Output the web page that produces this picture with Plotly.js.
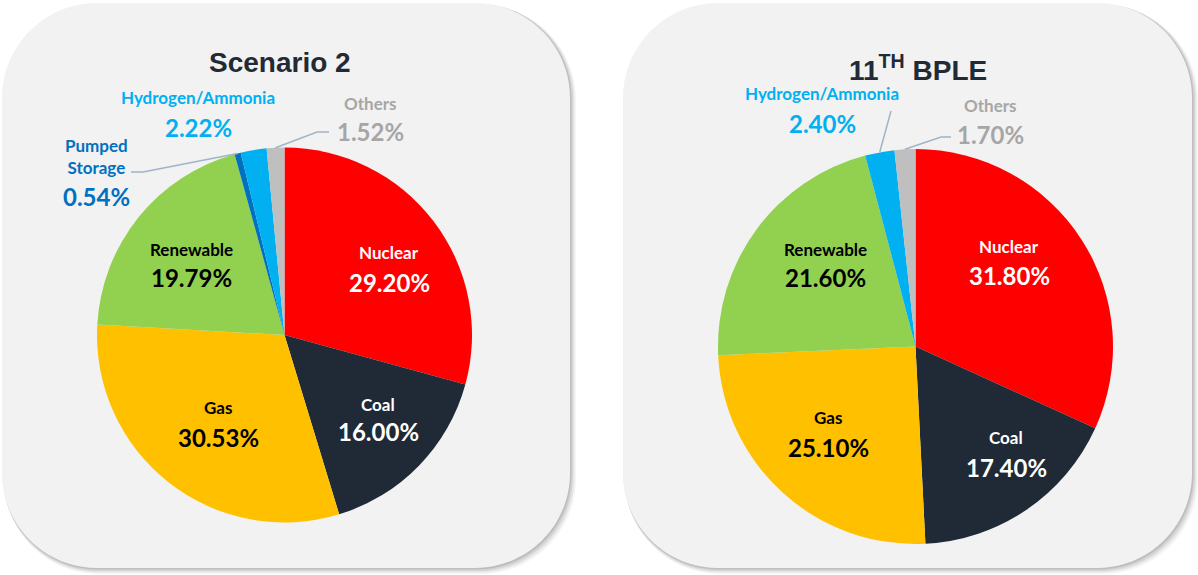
<!DOCTYPE html>
<html>
<head>
<meta charset="utf-8">
<script src="https://cdn.plot.ly/plotly-3.0.1.min.js"></script>
<style>html,body{margin:0;padding:0;background:#fff;}#chart{width:1198px;height:575px;}</style>
</head>
<body>
<div id="chart"></div>
<script>
// ---------------- DATA ----------------
const titles = ['Scenario 2', '11<sup>TH</sup> BPLE'];
const scenario2Labels = ['Nuclear', 'Coal', 'Gas', 'Renewable', 'Pumped Storage', 'Hydrogen/Ammonia', 'Others'];
const scenario2Values = [29.20, 16.00, 30.53, 19.79, 0.54, 2.22, 1.52];
const bpleLabels = ['Nuclear', 'Coal', 'Gas', 'Renewable', 'Hydrogen/Ammonia', 'Others'];
const bpleValues = [31.80, 17.40, 25.10, 21.60, 2.40, 1.70];

// ---------------- STYLE ----------------
const colorMap = {
  'Nuclear': '#FF0000', 'Coal': '#1F2A36', 'Gas': '#FFC000', 'Renewable': '#92D050',
  'Pumped Storage': '#0070C0', 'Hydrogen/Ammonia': '#00B0F0', 'Others': '#BFBFBF'
};
const labelColor = {
  'Nuclear': '#FFFFFF', 'Coal': '#FFFFFF', 'Gas': '#000000', 'Renewable': '#000000',
  'Pumped Storage': '#0070C0', 'Hydrogen/Ammonia': '#00B0F0', 'Others': '#A6A6A6'
};
const W = 1198, H = 575;
const px = x => x / W;
const py = y => 1 - y / H;
const FONT = 'Lato, "Open Sans", sans-serif';

const pies = [
  {cx: 284.5, cy: 335, r: 187.5, titleX: 280, titleY: 63, labels: scenario2Labels, values: scenario2Values,
   // label text positions (pixel centres): [labelY, pctY, x]; multi-line handled via <br>
   pos: {
     'Nuclear': [389, 253, 282], 'Coal': [378, 404, 432], 'Gas': [218, 407, 437], 'Renewable': [191, 249, 278],
     'Pumped Storage': [96, 156, 196], 'Hydrogen/Ammonia': [198, 98, 127], 'Others': [370, 104, 132]
   },
   leaders: {'Pumped Storage': [[131, 172], [143, 172]], 'Others': [[329, 132], [317, 132]]}
  },
  {cx: 915.5, cy: 346.5, r: 197.5, titleX: 918, titleY: 68, labels: bpleLabels, values: bpleValues,
   pos: {
     'Nuclear': [1009, 247, 275], 'Coal': [1006, 437, 467], 'Gas': [828, 417, 447], 'Renewable': [825, 250, 278],
     'Hydrogen/Ammonia': [822, 93, 123], 'Others': [990, 105, 134]
   },
   leaders: {'Hydrogen/Ammonia': [[891, 111]], 'Others': [[951, 137], [941, 137]]}
  }
];

const panels = [[2, 3, 570, 568], [623, 3, 1192, 568]];
const RAD = 95;

function roundRect(x0, y0, x1, y1, r) {
  const k = 0.5523 * r;
  const P = (x, y) => px(x) + ',' + py(y);
  return 'M' + P(x0 + r, y0) + ' L' + P(x1 - r, y0) +
    ' C' + P(x1 - r + k, y0) + ' ' + P(x1, y0 + r - k) + ' ' + P(x1, y0 + r) +
    ' L' + P(x1, y1 - r) +
    ' C' + P(x1, y1 - r + k) + ' ' + P(x1 - r + k, y1) + ' ' + P(x1 - r, y1) +
    ' L' + P(x0 + r, y1) +
    ' C' + P(x0 + r - k, y1) + ' ' + P(x0, y1 - r + k) + ' ' + P(x0, y1 - r) +
    ' L' + P(x0, y0 + r) +
    ' C' + P(x0, y0 + r - k) + ' ' + P(x0 + r - k, y0) + ' ' + P(x0 + r, y0) + ' Z';
}

const shapes = [];
panels.forEach(([x0, y0, x1, y1]) => {
  [[6, 0.04], [4.5, 0.06], [3, 0.08], [1.5, 0.1]].forEach(([o, a]) => {
    shapes.push({type: 'path', xref: 'paper', yref: 'paper', layer: 'below',
      path: roundRect(x0 + o * 0.3, y0 + o * 0.3, x1 + o, y1 + o, RAD),
      fillcolor: 'rgba(0,0,0,' + a + ')', line: {width: 0}});
  });
  shapes.push({type: 'path', xref: 'paper', yref: 'paper', layer: 'below',
    path: roundRect(x0, y0, x1, y1, RAD), fillcolor: '#F2F2F2', line: {width: 0}});
});

const traces = [];
const annotations = [];
pies.forEach(p => {
  traces.push({
    type: 'pie', labels: p.labels, values: p.values, sort: false, direction: 'clockwise', rotation: 0,
    marker: {colors: p.labels.map(l => colorMap[l]), line: {width: 0}},
    textinfo: 'none', hoverinfo: 'label+value', showlegend: false,
    domain: {x: [px(p.cx - p.r), px(p.cx + p.r)], y: [py(p.cy + p.r), py(p.cy - p.r)]}
  });
  annotations.push({xref: 'paper', yref: 'paper', x: px(p.titleX), y: py(p.titleY),
    xanchor: 'center', yanchor: 'middle', showarrow: false, text: '<b>' + (p === pies[0] ? titles[0] : titles[1]) + '</b>',
    font: {family: '"Liberation Sans", Arial, sans-serif', size: 28, color: '#222A35'}});

  const total = p.values.reduce((a, b) => a + b, 0);
  let cum = 0;
  p.labels.forEach((lab, i) => {
    const v = p.values[i];
    const mid = (cum + v / 2) / total * 2 * Math.PI;
    cum += v;
    const q = p.pos[lab];
    const col = labelColor[lab];
    annotations.push({xref: 'paper', yref: 'paper', x: px(q[0]), y: py(q[1]), xanchor: 'center', yanchor: 'middle',
      showarrow: false, text: '<b>' + lab.replace(' ', '<br>') + '</b>',
      font: {family: FONT, size: 17, color: col}});
    annotations.push({xref: 'paper', yref: 'paper', x: px(q[0]), y: py(q[2]), xanchor: 'center', yanchor: 'middle',
      showarrow: false, text: '<b>' + v.toFixed(2) + '%</b>',
      font: {family: FONT, size: 24, color: col}});
    if (p.leaders[lab]) {
      const ex = p.cx + p.r * Math.sin(mid), ey = p.cy - p.r * Math.cos(mid);
      const pts = p.leaders[lab].concat([[ex, ey]]);
      const path = pts.map((pt, j) => (j ? 'L' : 'M') + px(pt[0]) + ',' + py(pt[1])).join(' ');
      shapes.push({type: 'path', xref: 'paper', yref: 'paper', layer: 'above', path: path,
        line: {color: '#9FB4C8', width: 1.5}});
    }
  });
});

const layout = {
  width: W, height: H, margin: {l: 0, r: 0, t: 0, b: 0},
  paper_bgcolor: '#FFFFFF', plot_bgcolor: '#FFFFFF',
  showlegend: false, shapes: shapes, annotations: annotations
};
Plotly.newPlot('chart', traces, layout, {displayModeBar: false, staticPlot: true});
</script>
</body>
</html>
